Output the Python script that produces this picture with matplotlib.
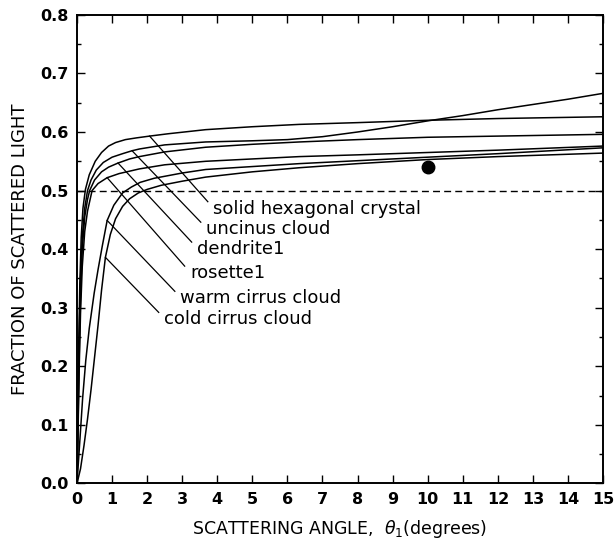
import matplotlib
matplotlib.use("Agg")
import matplotlib.pyplot as plt
from matplotlib.ticker import MultipleLocator, FormatStrFormatter

plt.rcParams['font.family'] = ['DejaVu Sans']

# curve samples: (angle in degrees, fraction of scattered light)
solid_x = [0, 0.02, 0.05, 0.08, 0.12, 0.17, 0.24, 0.35, 0.52, 0.7, 0.9, 1.1, 1.38, 1.7, 2.07, 2.6, 3.67, 5, 6.34, 8, 10, 12, 15]
solid_y = [0, 0.10, 0.24, 0.34, 0.42, 0.47, 0.502, 0.527, 0.55, 0.565, 0.576, 0.582, 0.587, 0.590, 0.593, 0.597, 0.604, 0.609, 0.613, 0.616, 0.620, 0.623, 0.626]

uncinus_x = [0, 0.03, 0.06, 0.1, 0.15, 0.22, 0.3, 0.4, 0.55, 0.75, 1.0, 1.3, 1.57, 1.78, 2.5, 3.67, 5, 6, 7, 8, 9, 10, 11, 12, 13, 14, 15]
uncinus_y = [0, 0.12, 0.24, 0.35, 0.42, 0.47, 0.50, 0.518, 0.535, 0.548, 0.557, 0.563, 0.568, 0.571, 0.578, 0.583, 0.585, 0.587, 0.592, 0.600, 0.609, 0.619, 0.628, 0.638, 0.647, 0.656, 0.666]

dendrite_x = [0, 0.03, 0.06, 0.1, 0.15, 0.22, 0.3, 0.36, 0.5, 0.7, 0.9, 1.17, 1.5, 1.78, 2.5, 3.67, 5, 6.34, 8, 10, 12, 15]
dendrite_y = [0, 0.10, 0.21, 0.32, 0.40, 0.455, 0.485, 0.50, 0.518, 0.532, 0.540, 0.547, 0.554, 0.558, 0.566, 0.574, 0.579, 0.583, 0.587, 0.591, 0.593, 0.596]

rosette_x = [0, 0.03, 0.06, 0.1, 0.15, 0.22, 0.3, 0.43, 0.6, 0.86, 1.2, 1.78, 2.5, 3.67, 5, 6.34, 8, 10, 12, 15]
rosette_y = [0, 0.09, 0.19, 0.29, 0.37, 0.43, 0.465, 0.50, 0.512, 0.522, 0.529, 0.537, 0.544, 0.550, 0.554, 0.558, 0.561, 0.565, 0.569, 0.576]

warm_x = [0, 0.05, 0.1, 0.16, 0.25, 0.35, 0.49, 0.6, 0.72, 0.86, 1.05, 1.3, 1.55, 1.8, 2.2, 3, 3.67, 5, 6.34, 8, 10, 12, 15]
warm_y = [0, 0.045, 0.09, 0.145, 0.21, 0.265, 0.325, 0.365, 0.405, 0.449, 0.475, 0.496, 0.506, 0.514, 0.521, 0.530, 0.536, 0.541, 0.546, 0.551, 0.557, 0.563, 0.573]

cold_x = [0, 0.1, 0.2, 0.3, 0.4, 0.5, 0.6, 0.7, 0.81, 0.95, 1.1, 1.3, 1.5, 1.75, 2.0, 2.4, 3, 3.67, 5, 6.34, 8, 10, 12, 15]
cold_y = [0, 0.025, 0.065, 0.11, 0.16, 0.215, 0.27, 0.33, 0.386, 0.425, 0.452, 0.473, 0.486, 0.496, 0.502, 0.509, 0.516, 0.523, 0.532, 0.539, 0.546, 0.553, 0.558, 0.564]

curve_names = ['solid hexagonal crystal', 'uncinus cloud', 'dendrite1',
               'rosette1', 'warm cirrus cloud', 'cold cirrus cloud']
curves = [(solid_x, solid_y), (uncinus_x, uncinus_y), (dendrite_x, dendrite_y),
          (rosette_x, rosette_y), (warm_x, warm_y), (cold_x, cold_y)]

# sample where each leader touches its curve
leader_start_idx = [14, 12, 11, 9, 9, 8]
# label anchors (left, vertical centre)
label_pos = [(3.88, 0.469), (3.68, 0.434), (3.42, 0.400), (3.22, 0.359), (2.94, 0.316), (2.48, 0.280)]

point_x = [10]
point_y = [0.54]
half_level = 0.5

fig = plt.figure(figsize=(6.16, 5.5), dpi=100)
ax = fig.add_axes([0.125, 0.121, 0.854, 0.852])

for cx, cy in curves:
    ax.plot(cx, cy, color='black', lw=1.1)

ax.axhline(half_level, color='black', lw=1.0, ls=(0, (5, 3)))
ax.plot(point_x, point_y, 'o', color='black', ms=9)

for (cx, cy), i, pos, name in zip(curves, leader_start_idx, label_pos, curve_names):
    ax.plot([cx[i], pos[0] - 0.15], [cy[i], pos[1] + 0.012], color='black', lw=0.9)
    ax.text(pos[0], pos[1], name, fontsize=13, va='center', ha='left')

ax.set_xlim(0, 15)
ax.set_ylim(0, 0.8)
ax.xaxis.set_major_locator(MultipleLocator(1))
ax.yaxis.set_major_locator(MultipleLocator(0.1))
ax.yaxis.set_minor_locator(MultipleLocator(0.05))
ax.tick_params(which='both', direction='in', top=True, right=True, width=1.0)
ax.tick_params(which='major', length=6, labelsize=11.5, pad=6)
ax.tick_params(which='minor', length=3)
ax.yaxis.set_major_formatter(FormatStrFormatter('%.1f'))
for lab in ax.get_xticklabels() + ax.get_yticklabels():
    lab.set_fontweight('bold')
for s in ax.spines.values():
    s.set_linewidth(1.4)

ax.set_xlabel(r'SCATTERING ANGLE,  $\theta_1$(degrees)', fontsize=12.5, labelpad=8)
ax.set_ylabel('FRACTION OF SCATTERED LIGHT', fontsize=13, labelpad=8)

fig.savefig('out.png', dpi=100)
